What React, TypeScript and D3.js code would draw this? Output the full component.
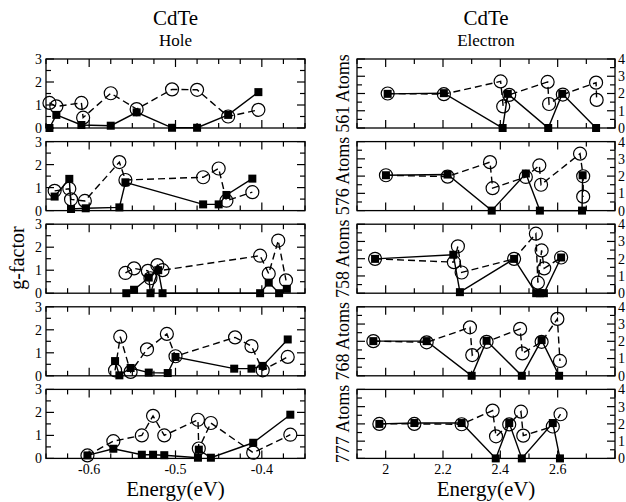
import React, {useRef, useEffect} from 'react';
import * as d3 from 'd3';

// axis ticks / labels
const holeEnergyTicks = [-0.6, -0.5, -0.4];
const holeEnergyLabels = ['-0.6', '-0.5', '-0.4'];
const electronEnergyTicks = [2, 2.2, 2.4, 2.6];
const electronEnergyLabels = ['2', '2.2', '2.4', '2.6'];
const holeGTicks = [0, 1, 2, 3];
const electronGTicks = [0, 1, 2, 3, 4];
const atomLabels = ['561 Atoms', '576 Atoms', '758 Atoms', '768 Atoms', '777 Atoms'];

// hole panels: [energy, g] -- squares (solid) and circles (dashed)
const holeSq561 = [[-0.646, 0.0], [-0.638, 0.57], [-0.609, 0.13], [-0.575, 0.1], [-0.545, 0.68], [-0.504, 0.01], [-0.475, 0.01], [-0.439, 0.57], [-0.404, 1.56]];
const holeCi561 = [[-0.646, 1.09], [-0.638, 0.94], [-0.609, 1.09], [-0.607, 0.45], [-0.575, 1.51], [-0.545, 0.82], [-0.504, 1.68], [-0.475, 1.66], [-0.439, 0.5], [-0.404, 0.79]];
const holeSq576 = [[-0.640, 0.61], [-0.623, 1.38], [-0.621, 0.07], [-0.604, 0.1], [-0.565, 0.14], [-0.558, 1.23], [-0.468, 0.27], [-0.450, 0.27], [-0.441, 0.68], [-0.411, 1.39]];
const holeCi576 = [[-0.640, 0.86], [-0.623, 0.95], [-0.621, 0.49], [-0.605, 0.42], [-0.565, 2.11], [-0.558, 1.33], [-0.468, 1.45], [-0.450, 1.83], [-0.441, 0.43], [-0.411, 0.8]];
const holeSq758 = [[-0.557, 0.0], [-0.548, 0.15], [-0.531, 0.68], [-0.529, 0.0], [-0.520, 1.0], [-0.515, 0.0], [-0.402, 0.0], [-0.392, 0.46], [-0.380, 0.0], [-0.371, 0.19]];
const holeCi758 = [[-0.558, 0.88], [-0.548, 1.08], [-0.532, 0.97], [-0.529, 0.65], [-0.521, 1.22], [-0.515, 1.0], [-0.402, 1.63], [-0.392, 0.85], [-0.381, 2.29], [-0.372, 0.56]];
const holeSq768 = [[-0.570, 0.64], [-0.565, 0.02], [-0.552, 0.34], [-0.531, 0.14], [-0.509, 0.12], [-0.500, 0.82], [-0.432, 0.31], [-0.412, 0.31], [-0.399, 0.43], [-0.370, 1.58]];
const holeCi768 = [[-0.570, 0.24], [-0.564, 1.7], [-0.552, 0.17], [-0.533, 1.15], [-0.510, 1.82], [-0.500, 0.85], [-0.431, 1.67], [-0.412, 1.29], [-0.399, 0.24], [-0.370, 0.82]];
const holeSq777 = [[-0.602, 0.13], [-0.572, 0.42], [-0.539, 0.16], [-0.526, 0.16], [-0.513, 0.14], [-0.474, 0.03], [-0.473, 0.38], [-0.459, 0.03], [-0.410, 0.68], [-0.367, 1.9]];
const holeCi777 = [[-0.602, 0.13], [-0.572, 0.75], [-0.539, 1.0], [-0.526, 1.85], [-0.513, 1.0], [-0.474, 1.68], [-0.473, 0.43], [-0.459, 1.54], [-0.410, 0.25], [-0.367, 1.03]];

// electron panels
const elecSq561 = [[2.007, 1.98], [2.203, 2.02], [2.408, 0.0], [2.426, 1.98], [2.567, 0.0], [2.616, 1.98], [2.734, 0.0]];
const elecCi561 = [[2.007, 2.0], [2.203, 1.96], [2.401, 2.7], [2.410, 1.25], [2.431, 1.92], [2.565, 2.67], [2.570, 1.39], [2.618, 1.94], [2.734, 2.63], [2.736, 1.63]];
const elecSq576 = [[2.001, 2.05], [2.216, 2.09], [2.370, 0.0], [2.489, 2.15], [2.538, 0.0], [2.685, 0.0], [2.687, 2.05]];
const elecCi576 = [[2.001, 2.05], [2.216, 1.97], [2.364, 2.81], [2.373, 1.3], [2.489, 1.95], [2.536, 2.62], [2.542, 1.5], [2.678, 3.3], [2.689, 1.99], [2.689, 0.81]];
const elecSq758 = [[1.963, 1.99], [2.236, 2.23], [2.259, 0.06], [2.448, 1.99], [2.525, 0.0], [2.538, 0.0], [2.552, 0.0], [2.612, 2.07]];
const elecCi758 = [[1.963, 1.99], [2.238, 1.8], [2.252, 2.72], [2.265, 1.2], [2.448, 1.99], [2.524, 3.45], [2.531, 0.61], [2.544, 2.48], [2.553, 1.44], [2.612, 2.07]];
const elecSq768 = [[1.957, 2.01], [2.143, 2.01], [2.300, 0.0], [2.352, 2.03], [2.475, 0.0], [2.544, 2.07], [2.605, 0.0]];
const elecCi768 = [[1.957, 2.01], [2.143, 1.94], [2.294, 2.81], [2.302, 1.2], [2.352, 1.97], [2.469, 2.72], [2.477, 1.3], [2.544, 1.97], [2.599, 3.3], [2.608, 0.86]];
const elecSq777 = [[1.978, 2.0], [2.100, 2.05], [2.265, 2.05], [2.384, 0.0], [2.431, 2.05], [2.475, 0.0], [2.583, 2.05], [2.608, 0.0]];
const elecCi777 = [[1.978, 2.0], [2.100, 2.0], [2.265, 1.98], [2.373, 2.77], [2.385, 1.28], [2.431, 1.97], [2.472, 2.71], [2.480, 1.32], [2.583, 1.85], [2.610, 2.56]];

const holePanels = [[holeSq561, holeCi561], [holeSq576, holeCi576], [holeSq758, holeCi758], [holeSq768, holeCi768], [holeSq777, holeCi777]];
const elecPanels = [[elecSq561, elecCi561], [elecSq576, elecCi576], [elecSq758, elecCi758], [elecSq768, elecCi768], [elecSq777, elecCi777]];

const FONT = 'Liberation Serif, serif';

export default function App(){

    const svgRef = useRef(null);

    const drawPanel = (root, cfg) => {
        const {x0, x1, top, height, xDomain, yDomain, xStep, xMajor, yStep, sq, ci} = cfg;
        const xScale = d3.scaleLinear().domain(xDomain).range([x0, x1]);
        const yScale = d3.scaleLinear().domain(yDomain).range([top + height, top]);
        const g = root.append('g');

        // ticks on all sides, inward
        const isMajor = (v, step) => Math.abs(v / step - Math.round(v / step)) < 1e-6;
        const xTicks = d3.range(xDomain[0], xDomain[1] + 1e-9, xStep);
        const yTicks = d3.range(yDomain[0], yDomain[1] + 1e-9, yStep);
        const tickG = g.append('g').attr('stroke', '#000').attr('stroke-width', 1.2);
        xTicks.forEach(v => {
            const len = isMajor(v, xMajor) ? 8 : 5;
            const px = xScale(v);
            tickG.append('line').attr('x1', px).attr('x2', px).attr('y1', top + height).attr('y2', top + height - len);
            tickG.append('line').attr('x1', px).attr('x2', px).attr('y1', top).attr('y2', top + len);
        });
        yTicks.forEach(v => {
            const len = isMajor(v, 1) ? 8 : 5;
            const py = yScale(v);
            tickG.append('line').attr('x1', x0).attr('x2', x0 + len).attr('y1', py).attr('y2', py);
            tickG.append('line').attr('x1', x1).attr('x2', x1 - len).attr('y1', py).attr('y2', py);
        });

        const line = d3.line().x(d => xScale(d[0])).y(d => yScale(d[1]));

        // solid line + filled squares
        g.append('path').attr('d', line(sq)).attr('fill', 'none')
            .attr('stroke', '#000').attr('stroke-width', 1.4);
        // dashed line + open circles
        g.append('path').attr('d', line(ci)).attr('fill', 'none')
            .attr('stroke', '#000').attr('stroke-width', 1.4).attr('stroke-dasharray', '7,4');

        g.append('g').selectAll('rect').data(sq).join('rect')
            .attr('x', d => xScale(d[0]) - 4)
            .attr('y', d => yScale(d[1]) - 4)
            .attr('width', 8).attr('height', 8)
            .attr('fill', '#000');
        g.append('g').selectAll('circle').data(ci).join('circle')
            .attr('cx', d => xScale(d[0]))
            .attr('cy', d => yScale(d[1]))
            .attr('r', 6.5)
            .attr('fill', 'none')
            .attr('stroke', '#000').attr('stroke-width', 1.2);

        // frame
        g.append('rect').attr('x', x0).attr('y', top).attr('width', x1 - x0).attr('height', height)
            .attr('fill', 'none').attr('stroke', '#000').attr('stroke-width', 1.3);

        return {xScale, yScale};
    };

    useEffect(() => {
        const svg = d3.select(svgRef.current);
        svg.selectAll('*').remove();
        const root = svg.append('g').attr('font-family', FONT).attr('fill', '#000');

        const tops = [59, 141.6, 224.2, 306.8, 389.4];
        const panelH = 69;
        const L = {x0: 46, x1: 305};
        const R = {x0: 357, x1: 615};

        tops.forEach((top, i) => {
            const hole = drawPanel(root, {
                ...L, top, height: panelH,
                xDomain: [-0.65, -0.35], xStep: 0.025, xMajor: 0.1,
                yDomain: [0, 3], yStep: 0.5,
                sq: holePanels[i][0], ci: holePanels[i][1],
            });
            const elec = drawPanel(root, {
                ...R, top, height: panelH,
                xDomain: [1.9, 2.8], xStep: 0.1, xMajor: 0.2,
                yDomain: [0, 4], yStep: 0.5,
                sq: elecPanels[i][0], ci: elecPanels[i][1],
            });

            // y tick labels
            root.append('g').selectAll('text').data(holeGTicks).join('text')
                .attr('x', L.x0 - 4).attr('y', d => hole.yScale(d))
                .attr('dy', '0.35em').attr('text-anchor', 'end')
                .attr('font-size', 14).text(d => d);
            root.append('g').selectAll('text').data(electronGTicks).join('text')
                .attr('x', R.x1 + 3).attr('y', d => elec.yScale(d))
                .attr('dy', '0.35em').attr('text-anchor', 'start')
                .attr('font-size', 14).text(d => d);

            // atoms label
            root.append('text')
                .attr('transform', `translate(${349},${top + panelH / 2}) rotate(-90)`)
                .attr('text-anchor', 'middle').attr('font-size', 18)
                .text(atomLabels[i]);

            if(i === tops.length - 1){
                root.append('g').selectAll('text').data(holeEnergyTicks).join('text')
                    .attr('x', (d, j) => hole.xScale(d)).attr('y', top + panelH + 16)
                    .attr('text-anchor', 'middle').attr('font-size', 14)
                    .text((d, j) => holeEnergyLabels[j]);
                root.append('g').selectAll('text').data(electronEnergyTicks).join('text')
                    .attr('x', d => elec.xScale(d)).attr('y', top + panelH + 16)
                    .attr('text-anchor', 'middle').attr('font-size', 14)
                    .text((d, j) => electronEnergyLabels[j]);
            }
        });

        // titles
        const cxL = 175.5, cxR = 486;
        root.append('text').attr('x', cxL).attr('y', 25).attr('text-anchor', 'middle').attr('font-size', 21).text('CdTe');
        root.append('text').attr('x', cxL).attr('y', 46).attr('text-anchor', 'middle').attr('font-size', 17).text('Hole');
        root.append('text').attr('x', cxR).attr('y', 25).attr('text-anchor', 'middle').attr('font-size', 21).text('CdTe');
        root.append('text').attr('x', cxR).attr('y', 46).attr('text-anchor', 'middle').attr('font-size', 17).text('Electron');

        // axis titles
        root.append('text').attr('x', cxL).attr('y', 496).attr('text-anchor', 'middle').attr('font-size', 21).text('Energy(eV)');
        root.append('text').attr('x', cxR).attr('y', 496).attr('text-anchor', 'middle').attr('font-size', 21).text('Energy(eV)');
        root.append('text')
            .attr('transform', 'translate(24,258) rotate(-90)')
            .attr('text-anchor', 'middle').attr('font-size', 20)
            .text('g-factor');
    });

    return(
        <svg
            ref={svgRef}
            width={626}
            height={502}
            style={{position: 'absolute', left: 0, top: 0, background: '#fff'}}
        />
    );
}
